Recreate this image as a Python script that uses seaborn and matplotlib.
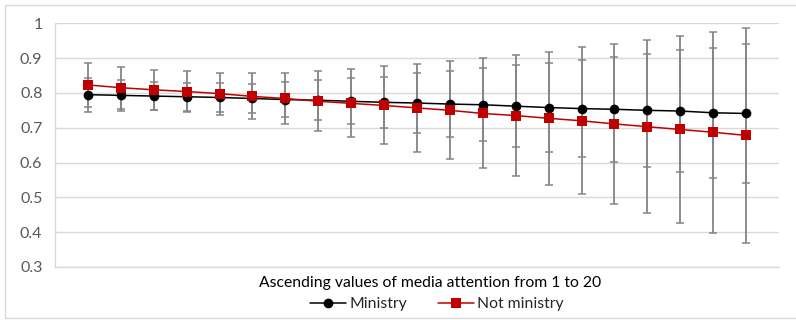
import numpy as np
import pandas as pd
import matplotlib
matplotlib.use("Agg")
import matplotlib.pyplot as plt
from matplotlib.patches import Rectangle
import seaborn as sns

# 21 steps of media attention on the category axis
attention = list(range(1, 22))

ministry = [0.795, 0.793, 0.791, 0.789, 0.787, 0.784, 0.781, 0.779, 0.776, 0.773, 0.771,
            0.768, 0.766, 0.762, 0.758, 0.755, 0.753, 0.750, 0.748, 0.743, 0.741]
ministry_err = [0.049, 0.045, 0.041, 0.040, 0.041, 0.043, 0.050, 0.057, 0.066, 0.074, 0.085,
                0.095, 0.105, 0.117, 0.127, 0.139, 0.150, 0.162, 0.174, 0.187, 0.199]

not_ministry = [0.823, 0.815, 0.809, 0.804, 0.798, 0.790, 0.784, 0.776, 0.770, 0.764, 0.757,
                0.750, 0.741, 0.735, 0.727, 0.720, 0.711, 0.703, 0.695, 0.687, 0.678]
not_ministry_err = [0.063, 0.060, 0.058, 0.058, 0.060, 0.066, 0.074, 0.086, 0.098, 0.112, 0.126,
                    0.141, 0.158, 0.175, 0.191, 0.211, 0.229, 0.249, 0.268, 0.288, 0.309]

groups = ["Ministry", "Not ministry"]
y_ticks = [0.3, 0.4, 0.5, 0.6, 0.7, 0.8, 0.9, 1.0]
y_labels = ["0.3", "0.4", "0.5", "0.6", "0.7", "0.8", "0.9", "1"]

sns.set_theme(style="white")
plt.rcParams['font.family'] = ['Lato', 'DejaVu Sans']

df = pd.DataFrame({
    "attention": attention * 2,
    "value": ministry + not_ministry,
    "group": [groups[0]] * len(attention) + [groups[1]] * len(attention),
})

fig = plt.figure(figsize=(7.96, 3.2), dpi=100)
ax = fig.add_axes([55 / 796, 1 - 267 / 320, (779 - 55) / 796, (267 - 23.3) / 320])

# error bars sit behind the lines
for vals, errs in [(ministry, ministry_err), (not_ministry, not_ministry_err)]:
    ax.errorbar(attention, vals, yerr=errs, fmt='none', ecolor='#858585',
                elinewidth=1.3, capsize=3, capthick=1.1, zorder=2)

sns.lineplot(data=df, x="attention", y="value", hue="group", style="group",
             hue_order=groups, style_order=groups,
             palette={"Ministry": "#000000", "Not ministry": "#c00000"},
             markers={"Ministry": "o", "Not ministry": "s"}, dashes=False,
             markersize=7, markeredgewidth=0, linewidth=1.1, ax=ax, zorder=3)

handles, labels = ax.get_legend_handles_labels()
ax.get_legend().remove()

ax.set_xlim(0, 22)
ax.set_ylim(0.3, 1.0)
ax.set_xticks([])
ax.set_yticks(y_ticks)
ax.set_yticklabels(y_labels)
ax.tick_params(axis='y', length=0, pad=9, labelsize=11.5, labelcolor='#595959')
ax.set_xlabel("")
ax.set_ylabel("")
ax.yaxis.grid(True, color='#d9d9d9', linewidth=1)
ax.set_axisbelow(True)
for side in ['top', 'right']:
    ax.spines[side].set_visible(False)
for side in ['left', 'bottom']:
    ax.spines[side].set_color('#d9d9d9')
    ax.spines[side].set_linewidth(1)

fig.text(430 / 796, 1 - 283 / 320, "Ascending values of media attention from 1 to 20",
         ha='center', va='center', fontsize=11.3, color='#000000')

fig.legend(handles, labels, loc='center', bbox_to_anchor=(437 / 796, 1 - 304 / 320),
           ncol=2, frameon=False, fontsize=11.3, handlelength=2.3, handletextpad=0.2,
           columnspacing=2.0, borderaxespad=0)

# light chart-area border
fig.patches.append(Rectangle((5 / 796, 2 / 320), 0.999, 1 - 7 / 320, transform=fig.transFigure,
                             fill=False, edgecolor='#d9d9d9', linewidth=1))

fig.savefig("out.png", dpi=100)
